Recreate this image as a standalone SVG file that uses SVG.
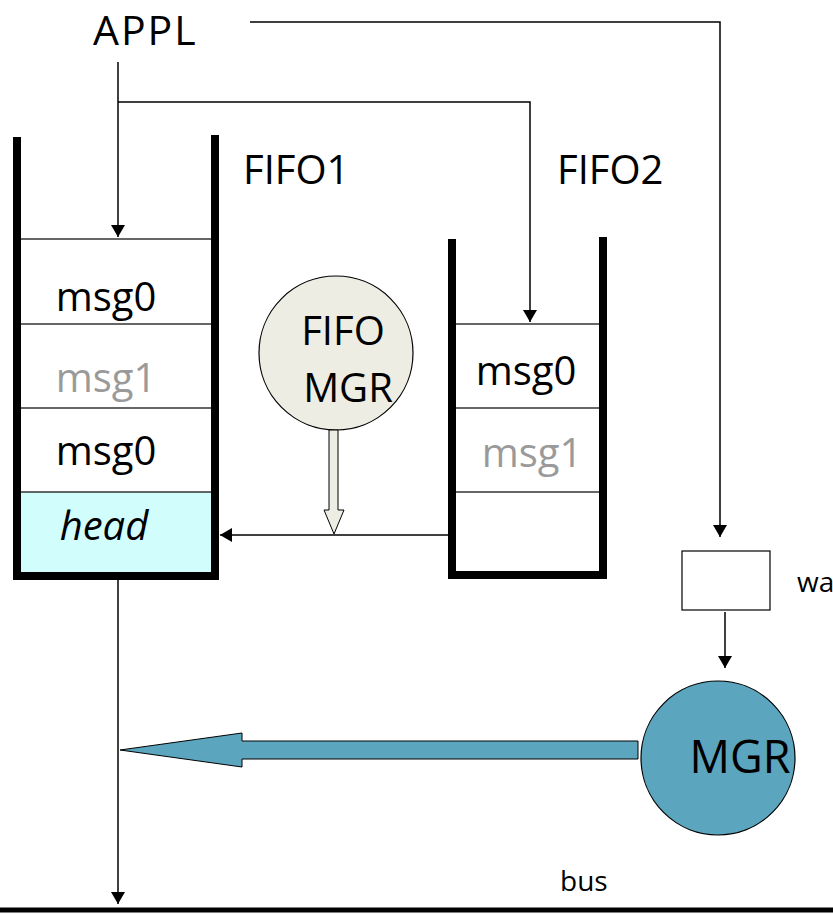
<svg xmlns="http://www.w3.org/2000/svg" width="833" height="914" viewBox="0 0 833 914">
<defs>
<style>
text{font-family:"Open Sans","Liberation Sans",sans-serif;fill:#000}
.lbl{font-size:40px}
.cell{font-size:40px;text-anchor:middle}
.gray{fill:#9a9a9a}
.wall{stroke:#000;stroke-width:8;fill:none;stroke-linecap:square}
.thin{stroke:#000;stroke-width:1.5;fill:none}
.sep{stroke:#333;stroke-width:1.5}
</style>
<marker id="ah" viewBox="0 0 12 14" refX="12" refY="7" markerWidth="12" markerHeight="14" markerUnits="userSpaceOnUse" orient="auto">
<path d="M0,0 L12,7 L0,14 Z" fill="#000"/>
</marker>
</defs>
<rect width="833" height="914" fill="#fff"/>

<g id="appl"><text x="93" y="45" style="font-size:41px;letter-spacing:2px">APPL</text></g>

<g id="fifo1">
<rect x="20" y="492" width="192" height="83" fill="#d2fdfd"/>
<line class="sep" x1="20" y1="239" x2="212" y2="239"/>
<line class="sep" x1="20" y1="324" x2="212" y2="324"/>
<line class="sep" x1="20" y1="408" x2="212" y2="408"/>
<line class="sep" x1="20" y1="492" x2="212" y2="492"/>
<path class="wall" d="M17,141 V576 H215 V139"/>
<text class="cell" x="106" y="311">msg0</text>
<text class="cell gray" x="106" y="392">msg1</text>
<text class="cell" x="106" y="465">msg0</text>
<text class="cell" x="104" y="540" font-style="italic">head</text>
<text class="lbl" x="243" y="184">FIFO1</text>
</g>

<g id="fifo2">
<line class="sep" x1="455" y1="324" x2="600" y2="324"/>
<line class="sep" x1="455" y1="408" x2="600" y2="408"/>
<line class="sep" x1="455" y1="492" x2="600" y2="492"/>
<path class="wall" d="M452,243 V575 H603 V241"/>
<text class="cell" x="526" y="385">msg0</text>
<text class="cell gray" x="532" y="467">msg1</text>
<text class="lbl" x="557" y="184">FIFO2</text>
</g>

<g id="fifomgr">
<circle cx="336" cy="353" r="77" fill="#ededE3" stroke="#000" stroke-width="1.2"/>
<text class="cell" x="343" y="345">FIFO</text>
<text class="cell" x="348" y="402">MGR</text>
<path d="M329,430 H338 V510 H344 L334,534 L324,510 H329 Z" fill="#ededE3" stroke="#000" stroke-width="1"/>
</g>

<g id="wait">
<rect x="682" y="551" width="88" height="59" fill="#fff" stroke="#000" stroke-width="1.2"/>
<text x="797" y="592" style="font-size:28px">wa</text>
</g>

<g id="mgr">
<circle cx="718" cy="758" r="77" fill="#5ba6be" stroke="#000" stroke-width="1.2"/>
<text x="740" y="773" style="font-size:45px;text-anchor:middle">MGR</text>
</g>

<g id="bus">
<line x1="0" y1="910" x2="833" y2="910" stroke="#000" stroke-width="5"/>
<text x="560" y="891" style="font-size:28px">bus</text>
</g>

<g id="connectors">
<path class="thin" d="M250,22 H720 V537" marker-end="url(#ah)"/>
<path class="thin" d="M118,62 V237" marker-end="url(#ah)"/>
<path class="thin" d="M118,102 H530 V322" marker-end="url(#ah)"/>
<path class="thin" d="M449,535 H220" marker-end="url(#ah)"/>
<path class="thin" d="M725,612 V668" marker-end="url(#ah)"/>
<path class="thin" d="M118,580 V904" marker-end="url(#ah)"/>
<path d="M638,741 H242 V733 L120,750 L242,767 V759 H638 Z" fill="#5ba6be" stroke="#000" stroke-width="1"/>
</g>
</svg>
